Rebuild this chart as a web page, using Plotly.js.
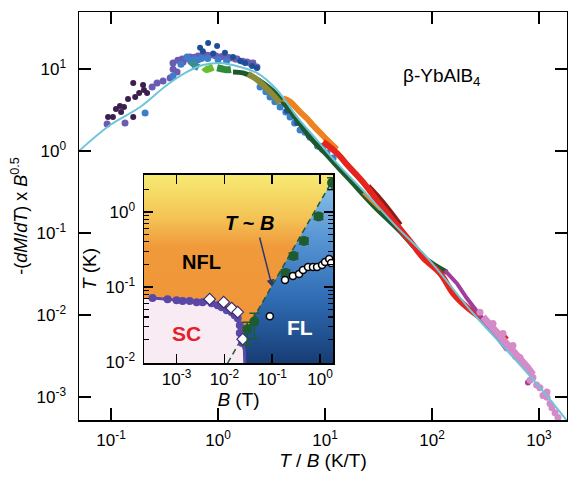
<!DOCTYPE html>
<html>
<head>
<meta charset="utf-8">
<script src="https://cdn.plot.ly/plotly-3.0.1.min.js"></script>
<style>html,body{margin:0;padding:0;background:#fff;}#chart{width:568px;height:477px;}</style>
</head>
<body>
<div id="chart"></div>
<script>
// ---------- main panel data: -(dM/dT) x B^0.5 vs T/B ----------
const fitX = [0.050, 0.098, 0.187, 0.333, 0.513, 0.724, 1.045, 1.38, 2.31, 3.56, 5.47, 8.41, 12.9, 22.6, 47.1, 89.7, 242, 502, 1021, 1828];
const fitY = [1.0, 2.08, 3.45, 6.41, 9.25, 11.2, 11.9, 11.2, 9.0, 5.57, 2.61, 1.36, 0.713, 0.333, 0.118, 0.0506, 0.0105, 0.00369, 0.0013, 0.000514];

const dpurpX = [0.0937, 0.104, 0.111, 0.121, 0.132, 0.144, 0.161, 0.161, 0.168, 0.183, 0.199, 0.203, 0.217, 0.124];
const dpurpY = [2.61, 2.61, 3.26, 3.55, 3.45, 4.32, 6.78, 2.61, 4.57, 5.12, 6.41, 5.57, 5.12, 3.0];

const violetX = [0.0918, 0.135, 0.242, 0.269, 0.306, 0.356, 0.379, 0.414, 0.461, 0.547, 0.650, 0.756, 0.898, 1.04, 1.29, 1.51, 1.87, 2.12, 2.31, 0.471, 0.38,
  0.42, 0.50, 0.60, 0.70, 0.80, 0.95, 1.10, 1.25, 1.45, 1.70, 2.0];
const violetY = [2.14, 2.20, 6.06, 6.78, 7.17, 7.80, 11.9, 9.25, 13.3, 14.1, 14.5, 14.9, 14.9, 14.1, 13.7, 13.3, 12.2, 11.9, 10.6, 12.2, 10.0,
  12.8, 13.5, 14.0, 14.6, 14.8, 14.6, 14.3, 13.9, 13.3, 12.5, 11.8];

const blueX = [0.208, 0.379, 0.513, 0.60, 0.70, 2.47, 3.06, 3.80, 4.71, 5.84, 7.24, 10.4, 11.9, 2.8, 3.4, 4.3, 5.2, 6.5, 8.5, 9.5,
  0.45, 0.55, 0.65, 0.8, 1.0, 1.2];
const blueY = [2.91, 8.26, 14.1, 13.0, 13.5, 6.06, 4.57, 3.45, 2.61, 1.81, 1.48, 0.946, 0.821, 5.3, 4.0, 3.0, 2.2, 1.7, 1.15, 1.05,
  11.5, 12.8, 13.0, 13.5, 13.0, 12.6];

const navyX = [0.679, 0.807, 0.979, 1.16, 1.38, 1.61, 1.79, 2.08, 2.31, 0.72, 0.90, 4.4, 5.5, 7.0, 9.0];
const navyY = [18.2, 20.9, 19.2, 15.8, 14.1, 12.6, 11.9, 10.9, 10.3, 16.5, 15.5, 3.1, 2.2, 1.55, 1.15];

const tealX = [0.55, 0.58, 0.62, 0.66];
const tealY = [11.0, 11.6, 10.9, 10.4];

const lgreenX = [0.74, 0.78, 0.84, 0.90];
const lgreenY = [10.5, 9.9, 10.2, 10.6];

const greenX = [0.98, 1.08, 1.2, 1.32];
const greenY = [10.4, 10.1, 9.8, 9.9];

const dgreenX = [1.38, 1.71, 2.12, 2.63, 3.27, 4.41, 5.84, 7.73, 10.0, 12.9, 17.1, 28.1, 50.2, 86.0, 138];
const dgreenY = [9.25, 8.99, 8.03, 6.78, 5.41, 3.45, 2.14, 1.33, 0.946, 0.656, 0.442, 0.219, 0.105, 0.0492, 0.0332];

const oliveX = [1.91, 2.26, 2.69, 3.20, 3.80];
const oliveY = [8.74, 7.59, 6.23, 4.98, 3.86];

const orangeX = [4.05, 4.71, 5.84, 6.79, 7.73, 8.98, 10.4, 12.9];
const orangeY = [4.4, 4.0, 3.0, 2.5, 2.05, 1.68, 1.38, 1.05];
const orange2X = [22.6, 32.7];
const orange2Y = [0.306, 0.190];

const redX = [9.58, 13.2, 16.1, 22.6, 32.7, 47.1, 66.4, 82.4, 119, 157, 212, 281, 372, 461, 502];
const redY = [1.3, 0.92, 0.68, 0.42, 0.225, 0.125, 0.0720, 0.0500, 0.0323, 0.0184, 0.0124, 0.00935, 0.00686, 0.00533, 0.0056];

const dredX = [25.2, 31.3, 38.8, 50.2];
const dredY = [0.373, 0.274, 0.195, 0.125];

const magX = [132, 171, 212, 264, 348, 432, 502];
const magY = [0.0351, 0.0243, 0.0160, 0.0111, 0.00705, 0.0049, 0.0037];
const magDotX = [789, 600];
const magDotY = [0.0015, 0.0031];

const pinkBandX = [300, 380, 470, 570, 670, 780, 880];
const pinkBandY = [0.0095, 0.0068, 0.0050, 0.0037, 0.00295, 0.0023, 0.00186];
const pinkX = [281, 372, 461, 571, 664, 773, 879, 1021, 1090, 1188, 1268, 1322, 1413, 1505, 824, 1188, 950];
const pinkY = [0.0108, 0.00789, 0.00596, 0.00425, 0.00303, 0.00229, 0.00173, 0.0013, 0.00104, 0.00099, 0.00083, 0.00074, 0.00064, 0.00056, 0.0016, 0.00115, 0.0014];

const mainXTicks = [0.1, 1, 10, 100, 1000];
const mainXText = ['10<sup>-1</sup>', '10<sup>0</sup>', '10<sup>1</sup>', '10<sup>2</sup>', '10<sup>3</sup>'];
const mainYTicks = [0.001, 0.01, 0.1, 1, 10];
const mainYText = ['10<sup>-3</sup>', '10<sup>-2</sup>', '10<sup>-1</sup>', '10<sup>0</sup>', '10<sup>1</sup>'];

// ---------- inset data: T vs B phase diagram ----------
const insetB = [0.000209, 1.862];   // axis span
const insetT = [0.00977, 3.09];

const scB = [3.14e-4, 6.5e-4, 0.001, 0.00134, 0.00188, 0.00263, 0.0035, 0.0054, 0.0072, 0.0088, 0.0112, 0.0142, 0.0164, 0.019, 0.021, 0.021, 0.0235, 0.0262, 0.0267];
const scT = [0.0713, 0.069, 0.067, 0.065, 0.065, 0.063, 0.063, 0.061, 0.0575, 0.054, 0.049, 0.0464, 0.0423, 0.0386, 0.0311, 0.0244, 0.018, 0.0145, 0.00977];

const diaB = [0.00492, 0.00966, 0.0142, 0.019, 0.0242];
const diaT = [0.069, 0.063, 0.0525, 0.0464, 0.0203];

const tbB = [1.78, 0.93, 0.46, 0.278, 0.189, 0.0422, 0.030];
const tbT = [2.44, 0.87, 0.41, 0.259, 0.154, 0.0347, 0.0275];
const tbErrP = [0.40, 0.08, 0.04, 0.025, 0.015, 0.010, 0.0066];
const tbErrM = [0.48, 0.08, 0.04, 0.025, 0.015, 0.014, 0.0106];

const flB = [0.185, 0.27, 0.363, 0.44, 0.56, 0.71, 0.865, 1.1, 1.27, 1.55, 1.7, 0.089];
const flT = [0.124, 0.140, 0.149, 0.169, 0.185, 0.185, 0.185, 0.197, 0.215, 0.236, 0.209, 0.041];

const lineB = [0.0117, 1.862];
const lineT = [0.00977, 2.7];

const insetXTicks = [0.001, 0.01, 0.1, 1];
const insetXText = ['10<sup>-3</sup>', '10<sup>-2</sup>', '10<sup>-1</sup>', '10<sup>0</sup>'];
const insetYTicks = [0.01, 0.1, 1];
const insetYText = ['10<sup>-2</sup>', '10<sup>-1</sup>', '10<sup>0</sup>'];
const insetYMinor = [0.02,0.03,0.04,0.05,0.06,0.07,0.08,0.09,0.2,0.3,0.4,0.5,0.6,0.7,0.8,0.9,2,3];

// ---------- build ----------
const FONT = 'Liberation Sans, Arial, Helvetica, sans-serif';
function pts(x, y, color, size) {
  return {x: x, y: y, type: 'scatter', mode: 'markers', xaxis: 'x', yaxis: 'y',
    marker: {color: color, size: size || 6, line: {width: 0}}, hoverinfo: 'skip', showlegend: false};
}
function band(x, y, color, w, shape) {
  return {x: x, y: y, type: 'scatter', mode: 'lines', xaxis: 'x', yaxis: 'y',
    line: {color: color, width: w || 5, shape: shape || 'spline'}, hoverinfo: 'skip', showlegend: false};
}

const traces = [
  pts(dpurpX, dpurpY, '#3b1f4e', 6),
  pts(violetX, violetY, '#6a5cb0', 7),
  pts(blueX, blueY, '#3d7dcc', 7),
  pts(navyX, navyY, '#1d4f98', 6),
  band(tealX, tealY, '#3b8d8f', 7),
  band(lgreenX, lgreenY, '#69bd2e', 7),
  band(greenX, greenY, '#2c8c3c', 7),
  band(dgreenX, dgreenY, '#1c5a2c', 5),
  band(oliveX, oliveY, '#8b8a35', 6),
  band(orangeX, orangeY, '#ef8220', 6),
  band(orange2X, orange2Y, '#ef8220', 2),
  band(dredX, dredY, '#8c1b1b', 6),
  band(redX, redY, '#e6231d', 6),
  band(magX, magY, '#a23d9b', 4, 'linear'),
  pts(magDotX, magDotY, '#a23d9b', 6),
  band(pinkBandX, pinkBandY, '#d58bc7', 7, 'linear'),
  pts(pinkX, pinkY, '#d58bc7', 7),
  {x: fitX, y: fitY, type: 'scatter', mode: 'lines', xaxis: 'x', yaxis: 'y',
    line: {color: '#6cc6d8', width: 2, shape: 'spline'}, hoverinfo: 'skip', showlegend: false},

  // inset background (yellow -> orange)
  {x: [insetB[0], insetB[1], insetB[1], insetB[0]], y: [insetT[0], insetT[0], insetT[1], insetT[1]],
    type: 'scatter', mode: 'none', fill: 'toself', xaxis: 'x2', yaxis: 'y2',
    fillgradient: {type: 'vertical', colorscale: [[0, '#ef9235'], [0.62, '#f09a3c'], [0.78, '#f4c556'], [1, '#f6ea72']]},
    hoverinfo: 'skip', showlegend: false},
  // FL region
  {x: [lineB[0], lineB[1], insetB[1], lineB[0]], y: [lineT[0], lineT[1], insetT[0], insetT[0]],
    type: 'scatter', mode: 'none', fill: 'toself', xaxis: 'x2', yaxis: 'y2',
    fillgradient: {type: 'vertical', colorscale: [[0, '#173d74'], [0.35, '#2f6cb4'], [0.7, '#5a98d6'], [1, '#8dc2ea']]},
    hoverinfo: 'skip', showlegend: false},
  // SC region
  {x: [insetB[0]].concat(scB).concat([insetB[0]]), y: [scT[0]].concat(scT).concat([insetT[0]]),
    type: 'scatter', mode: 'none', fill: 'toself', fillcolor: '#f9ebf3', xaxis: 'x2', yaxis: 'y2',
    hoverinfo: 'skip', showlegend: false},
  // T ~ B dashed line
  {x: lineB, y: lineT, type: 'scatter', mode: 'lines', xaxis: 'x2', yaxis: 'y2',
    line: {color: '#1e5b30', width: 1.5, dash: '6px,4px'}, hoverinfo: 'skip', showlegend: false},
  // SC boundary
  {x: scB, y: scT, type: 'scatter', mode: 'lines', xaxis: 'x2', yaxis: 'y2',
    line: {color: '#5b47a6', width: 3}, hoverinfo: 'skip', showlegend: false},
  {x: scB.slice(0, 17), y: scT.slice(0, 17), type: 'scatter', mode: 'markers', xaxis: 'x2', yaxis: 'y2',
    marker: {color: '#5b47a6', size: 8}, hoverinfo: 'skip', showlegend: false},
  {x: diaB, y: diaT, type: 'scatter', mode: 'markers', xaxis: 'x2', yaxis: 'y2',
    marker: {symbol: 'diamond', color: '#ffffff', size: 9, line: {color: '#3a2a70', width: 1.2}}, hoverinfo: 'skip', showlegend: false},
  // crossover points with error bars
  {x: tbB, y: tbT, type: 'scatter', mode: 'markers', xaxis: 'x2', yaxis: 'y2',
    marker: {color: '#1e5b30', size: 10},
    error_y: {type: 'data', symmetric: false, array: tbErrP, arrayminus: tbErrM, color: '#1e5b30', thickness: 1.5, width: 5},
    hoverinfo: 'skip', showlegend: false},
  // FL points
  {x: flB, y: flT, type: 'scatter', mode: 'markers', xaxis: 'x2', yaxis: 'y2',
    marker: {color: '#ffffff', size: 7, line: {color: '#000000', width: 1.5}}, hoverinfo: 'skip', showlegend: false}
];

const axisCommon = {type: 'log', showgrid: false, zeroline: false, showline: true, linecolor: '#000', linewidth: 1.5,
  ticks: 'inside', tickcolor: '#000', tickwidth: 1.5, tickfont: {family: FONT, size: 17, color: '#000'}};

const layout = {
  width: 568, height: 477,
  margin: {l: 79, r: 1, t: 12, b: 57},
  paper_bgcolor: '#ffffff', plot_bgcolor: '#ffffff',
  showlegend: false,
  font: {family: FONT, color: '#000'},
  xaxis: Object.assign({}, axisCommon, {
    domain: [0, 1], anchor: 'y', range: [-1.3, 3.262], mirror: 'ticks', ticklen: 12,
    tickvals: mainXTicks, ticktext: mainXText, ticklabelstandoff: 4,
    title: {text: '<i>T</i> / <i>B</i> (K/T)', font: {family: FONT, size: 19}, standoff: 4}
  }),
  yaxis: Object.assign({}, axisCommon, {
    domain: [0, 1], anchor: 'x', range: [-3.281, 1.697], mirror: 'ticks', ticklen: 12,
    tickvals: mainYTicks, ticktext: mainYText, ticklabelstandoff: 8,
    title: {text: '-(<i>dM</i>/<i>dT</i>) x <i>B</i><sup>0.5</sup>', font: {family: FONT, size: 18}, standoff: 4}
  }),
  xaxis2: Object.assign({}, axisCommon, {
    domain: [0.1332, 0.5205], anchor: 'y2', range: [-3.68, 0.27], mirror: 'allticks', ticklen: 9,
    tickvals: insetXTicks, ticktext: insetXText, ticklabelstandoff: 0,
    title: {text: '<i>B</i> (T)', font: {family: FONT, size: 19}, standoff: 0}
  }),
  yaxis2: Object.assign({}, axisCommon, {
    domain: [0.1397, 0.6005], anchor: 'x2', range: [-2.01, 0.49], mirror: 'allticks', ticklen: 9,
    tickvals: insetYTicks, ticktext: insetYText, ticklabelstandoff: 4,
    minor: {tickvals: insetYMinor, ticks: 'inside', ticklen: 5, tickwidth: 1.2, tickcolor: '#000'},
    title: {text: '<i>T</i> (K)', font: {family: FONT, size: 19}, standoff: 4}
  }),
  annotations: [
    {xref: 'paper', yref: 'paper', x: 0.826, y: 0.876, text: 'β-YbAlB<sub>4</sub>', showarrow: false,
      font: {family: FONT, size: 19, color: '#000'}},
    {xref: 'x2', yref: 'y2', x: -2.476, y: -0.667, text: '<b>NFL</b>', showarrow: false,
      font: {family: FONT, size: 20, color: '#000'}},
    {xref: 'x2', yref: 'y2', x: -2.79, y: -1.613, text: '<b>SC</b>', showarrow: false,
      font: {family: FONT, size: 21, color: '#e5202a'}},
    {xref: 'x2', yref: 'y2', x: -0.421, y: -1.533, text: '<b>FL</b>', showarrow: false,
      font: {family: FONT, size: 21, color: '#ffffff'}},
    {xref: 'x2', yref: 'y2', x: -1.47, y: -0.147, text: '<b><i>T</i> ~ <i>B</i></b>', showarrow: false,
      font: {family: FONT, size: 20, color: '#000'}},
    {xref: 'x2', yref: 'y2', x: -1.0, y: -1.0, text: '', showarrow: true, ax: -13, ay: -51,
      arrowhead: 2, arrowsize: 1, arrowwidth: 1.5, arrowcolor: '#2b3a6b'}
  ]
};

Plotly.newPlot('chart', traces, layout, {staticPlot: true, displayModeBar: false});
</script>
</body>
</html>
